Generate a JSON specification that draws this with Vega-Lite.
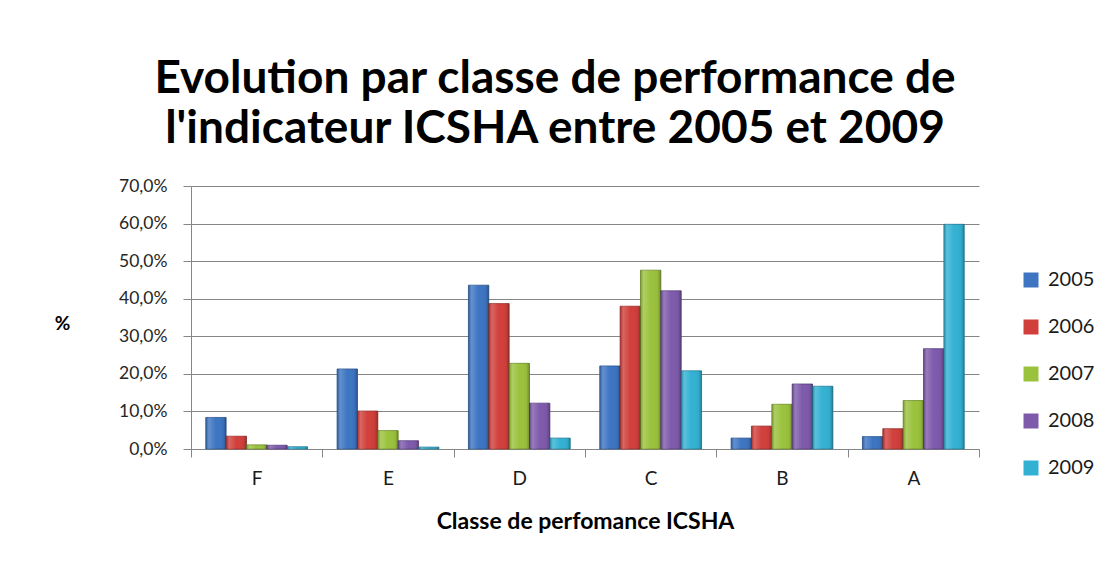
{
  "$schema": "https://vega.github.io/schema/vega-lite/v6.json",
  "width": 788,
  "height": 263,
  "autosize": {"type": "none"},
  "padding": {"left": 191, "top": 186, "right": 138, "bottom": 135},
  "background": "white",
  "title": {
    "text": ["Evolution par classe de performance de", "l'indicateur ICSHA entre 2005 et 2009"],
    "font": "Lato",
    "fontSize": 46,
    "fontWeight": "bold",
    "color": "#000000",
    "lineHeight": 50,
    "anchor": "middle",
    "frame": "group",
    "dx": -30,
    "offset": 24
  },
  "data": {
    "values": [
      {"classe": "F", "annee": "2005", "pct": 8.4},
      {"classe": "F", "annee": "2006", "pct": 3.4},
      {"classe": "F", "annee": "2007", "pct": 1.1},
      {"classe": "F", "annee": "2008", "pct": 1.0},
      {"classe": "F", "annee": "2009", "pct": 0.6},
      {"classe": "E", "annee": "2005", "pct": 21.3},
      {"classe": "E", "annee": "2006", "pct": 10.1},
      {"classe": "E", "annee": "2007", "pct": 4.9},
      {"classe": "E", "annee": "2008", "pct": 2.2},
      {"classe": "E", "annee": "2009", "pct": 0.5},
      {"classe": "D", "annee": "2005", "pct": 43.6},
      {"classe": "D", "annee": "2006", "pct": 38.7},
      {"classe": "D", "annee": "2007", "pct": 22.8},
      {"classe": "D", "annee": "2008", "pct": 12.2},
      {"classe": "D", "annee": "2009", "pct": 2.9},
      {"classe": "C", "annee": "2005", "pct": 22.1},
      {"classe": "C", "annee": "2006", "pct": 38.0},
      {"classe": "C", "annee": "2007", "pct": 47.6},
      {"classe": "C", "annee": "2008", "pct": 42.1},
      {"classe": "C", "annee": "2009", "pct": 20.8},
      {"classe": "B", "annee": "2005", "pct": 2.9},
      {"classe": "B", "annee": "2006", "pct": 6.1},
      {"classe": "B", "annee": "2007", "pct": 11.9},
      {"classe": "B", "annee": "2008", "pct": 17.3},
      {"classe": "B", "annee": "2009", "pct": 16.7},
      {"classe": "A", "annee": "2005", "pct": 3.3},
      {"classe": "A", "annee": "2006", "pct": 5.4},
      {"classe": "A", "annee": "2007", "pct": 12.9},
      {"classe": "A", "annee": "2008", "pct": 26.7},
      {"classe": "A", "annee": "2009", "pct": 59.8}
    ]
  },
  "encoding": {
    "x": {
      "field": "classe",
      "type": "nominal",
      "sort": ["F", "E", "D", "C", "B", "A"],
      "scale": {"paddingInner": 0, "paddingOuter": 0},
      "axis": {
        "title": "Classe de perfomance ICSHA",
        "titleFont": "Lato",
        "titleFontSize": 23,
        "titleFontWeight": "bold",
        "titleColor": "#000000",
        "titleY": 72,
        "titleBaseline": "middle",
        "labelAngle": 0,
        "labelFont": "Lato",
        "labelFontSize": 19,
        "labelColor": "#1a1a1a",
        "labelPadding": 12,
        "tickBand": "extent",
        "tickSize": 8,
        "tickColor": "#868686",
        "domainColor": "#868686",
        "grid": false
      }
    },
    "xOffset": {
      "field": "annee",
      "type": "nominal",
      "scale": {"paddingInner": 0, "paddingOuter": 0.725}
    },
    "y": {
      "field": "pct",
      "type": "quantitative",
      "scale": {"domain": [0, 70], "nice": false},
      "axis": {
        "values": [0, 10, 20, 30, 40, 50, 60, 70],
        "labelExpr": "replace(format(datum.value, '.1f'), '.', ',') + '%'",
        "title": "%",
        "titleAngle": 0,
        "titleX": -129,
        "titleY": 137,
        "titleAlign": "center",
        "titleBaseline": "middle",
        "titleFont": "Lato",
        "titleFontSize": 19,
        "titleFontWeight": "bold",
        "titleColor": "#000000",
        "labelFont": "Lato",
        "labelFontSize": 17.5,
        "labelColor": "#262626",
        "labelPadding": 16,
        "tickSize": 8,
        "tickColor": "#868686",
        "domainColor": "#868686",
        "gridColor": "#868686",
        "gridWidth": 1
      }
    }
  },
  "layer": [
    {
      "mark": {"type": "bar", "strokeWidth": 0.8},
      "encoding": {
        "color": {
          "field": "annee",
          "type": "nominal",
          "scale": {
            "domain": ["2005", "2006", "2007", "2008", "2009"],
            "range": ["#3d75c2", "#d13f3b", "#9bc23d", "#7e5aab", "#33b1d3"]
          },
          "legend": {
            "title": null,
            "orient": "none",
            "legendX": 830,
            "legendY": 84,
            "symbolType": "square",
            "symbolSize": 225,
            "symbolStrokeWidth": 0,
            "labelFont": "Lato",
            "labelFontSize": 20,
            "labelColor": "#1a1a1a",
            "labelOffset": 7,
            "rowPadding": 27
          }
        },
        "stroke": {
          "field": "annee",
          "type": "nominal",
          "scale": {
            "domain": ["2005", "2006", "2007", "2008", "2009"],
            "range": ["#2b5590", "#99302d", "#6f8c2c", "#5b4080", "#23809a"]
          },
          "legend": null
        }
      }
    },
    {
      "mark": {
        "type": "bar",
        "color": {
          "gradient": "linear",
          "x1": 0, "y1": 0, "x2": 1, "y2": 0,
          "stops": [
            {"offset": 0, "color": "rgba(0,0,0,0.18)"},
            {"offset": 0.15, "color": "rgba(255,255,255,0.2)"},
            {"offset": 0.5, "color": "rgba(255,255,255,0)"},
            {"offset": 0.85, "color": "rgba(0,0,0,0.04)"},
            {"offset": 1, "color": "rgba(0,0,0,0.28)"}
          ]
        }
      }
    }
  ],
  "config": {
    "view": {"stroke": null}
  }
}
